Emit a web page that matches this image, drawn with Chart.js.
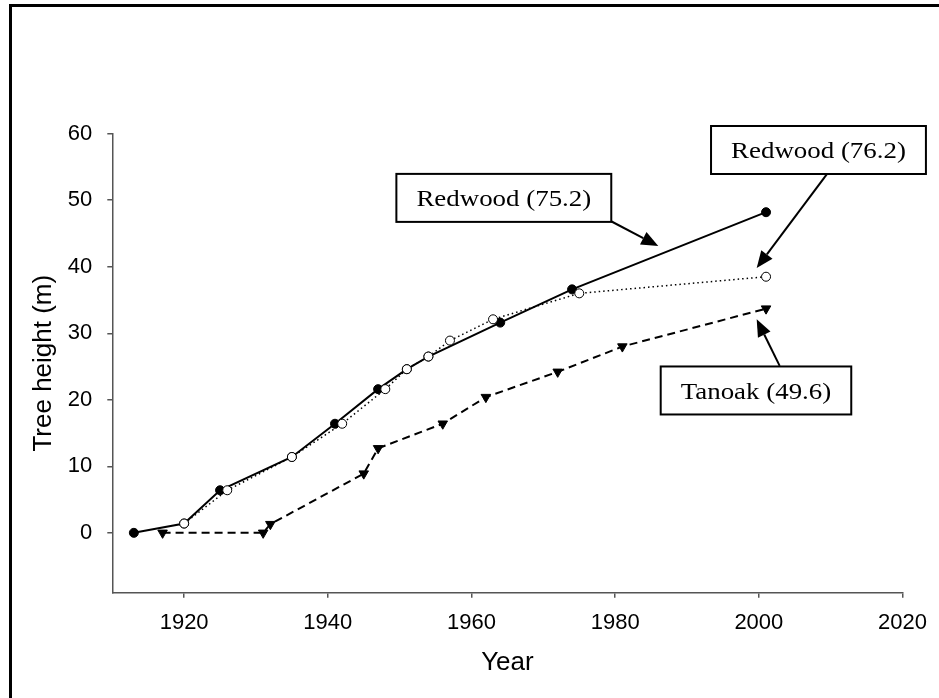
<!DOCTYPE html>
<html>
<head>
<meta charset="utf-8">
<script src="https://cdn.jsdelivr.net/npm/chart.js@4.4.1/dist/chart.umd.min.js"></script>
<style>
  body { margin: 0; background: #fff; }
  canvas { display: block; }
</style>
</head>
<body>
<canvas id="myChart" width="939" height="698"></canvas>
<script>
    // Redwood (75.2) - filled circles, solid line
    // (1920, 1935, 1951, 1954 sit under the open circles of the other redwood)
    var rw752Years = [1913, 1920, 1925, 1935, 1941, 1947, 1951, 1954, 1964, 1974, 2001];
    var rw752Height = [0, 1.4, 6.4, 11.4, 16.4, 21.6, 24.6, 26.5, 31.6, 36.6, 48.2];

    // Redwood (76.2) - open circles, dotted line
    var rw762Years = [1920, 1926, 1935, 1942, 1948, 1951, 1954, 1957, 1963, 1975, 2001];
    var rw762Height = [1.4, 6.4, 11.4, 16.4, 21.6, 24.6, 26.5, 28.9, 32.1, 36.0, 38.5];

    // Tanoak (49.6) - down triangles, dashed line
    var tanoakYears = [1917, 1931, 1932, 1945, 1947, 1956, 1962, 1972, 1981, 2001];
    var tanoakHeight = [0, 0, 1.3, 8.9, 12.7, 16.4, 20.4, 24.2, 28.0, 33.7];

    var xTicks = [1920, 1940, 1960, 1980, 2000, 2020];
    var yTicks = [0, 10, 20, 30, 40, 50, 60];

    // label boxes, placed in data units (box centre, arrow start on box edge, arrow tip)
    var labelTexts = ["Redwood (75.2)", "Redwood (76.2)", "Tanoak (49.6)"];
    var labelCentres = [[1964.5, 50.35], [2008.3, 57.55], [1999.6, 21.4]];
    var arrowFrom = [[1979.5, 46.8], [2009.5, 53.95], [2002.9, 25.1]];
    var arrowTo = [[1986.0, 43.1], [1999.7, 39.8], [1999.7, 32.1]];

    function toPoints(xs, ys) {
        var pts = [];
        for (var i = 0; i < xs.length; i++) {
            pts.push({x: xs[i], y: ys[i]});
        }
        return pts;
    }

    var boxesPlugin = {
        id: "boxes",
        afterDraw: function(chart) {
            var ctx = chart.ctx;
            var xs = chart.scales.x;
            var ys = chart.scales.y;
            ctx.save();

            // outer frame (only top and left are inside the picture)
            ctx.strokeStyle = "#000";
            ctx.lineWidth = 3;
            ctx.strokeRect(10.5, 5.5, 1200, 1200);

            var stretch = 1.17;
            ctx.font = "23px 'Liberation Serif', 'Times New Roman', serif";
            ctx.textAlign = "center";
            ctx.textBaseline = "middle";
            for (var i = 0; i < labelTexts.length; i++) {
                var cx = xs.getPixelForValue(labelCentres[i][0]);
                var cy = ys.getPixelForValue(labelCentres[i][1]);
                var w = ctx.measureText(labelTexts[i]).width * stretch + 40;
                var h = 48;
                ctx.fillStyle = "#fff";
                ctx.fillRect(cx - w / 2, cy - h / 2, w, h);
                ctx.lineWidth = 2;
                ctx.strokeStyle = "#000";
                ctx.strokeRect(cx - w / 2, cy - h / 2, w, h);
                ctx.fillStyle = "#000";
                ctx.save();
                ctx.translate(cx, cy + 2);
                ctx.scale(stretch, 1);
                ctx.fillText(labelTexts[i], 0, 0);
                ctx.restore();

                // arrow
                var x1 = xs.getPixelForValue(arrowFrom[i][0]);
                var y1 = ys.getPixelForValue(arrowFrom[i][1]);
                var x2 = xs.getPixelForValue(arrowTo[i][0]);
                var y2 = ys.getPixelForValue(arrowTo[i][1]);
                var ang = Math.atan2(y2 - y1, x2 - x1);
                var headLen = 17, headW = 7;
                var bx = x2 - Math.cos(ang) * headLen;
                var by = y2 - Math.sin(ang) * headLen;
                ctx.lineWidth = 2;
                ctx.beginPath();
                ctx.moveTo(x1, y1);
                ctx.lineTo(bx, by);
                ctx.stroke();
                ctx.beginPath();
                ctx.moveTo(x2, y2);
                ctx.lineTo(bx + Math.sin(ang) * headW, by - Math.cos(ang) * headW);
                ctx.lineTo(bx - Math.sin(ang) * headW, by + Math.cos(ang) * headW);
                ctx.closePath();
                ctx.fill();
            }
            ctx.restore();
        }
    };

    var ctx = document.getElementById("myChart").getContext("2d");
    var myChart = new Chart(ctx, {
        type: "line",
        data: {
            datasets: [
                {
                    // first dataset is drawn last, so the open circles sit on top
                    label: "Redwood (76.2)",
                    data: toPoints(rw762Years, rw762Height),
                    borderColor: "#000",
                    borderWidth: 1.5,
                    borderDash: [1.5, 3],
                    pointStyle: "circle",
                    pointRadius: 4.5,
                    pointBackgroundColor: "#fff",
                    pointBorderColor: "#000",
                    pointBorderWidth: 1
                },
                {
                    label: "Redwood (75.2)",
                    data: toPoints(rw752Years, rw752Height),
                    borderColor: "#000",
                    borderWidth: 2,
                    pointStyle: "circle",
                    pointRadius: 4.5,
                    pointBackgroundColor: "#000",
                    pointBorderColor: "#000",
                    pointBorderWidth: 1
                },
                {
                    label: "Tanoak (49.6)",
                    data: toPoints(tanoakYears, tanoakHeight),
                    borderColor: "#000",
                    borderWidth: 2,
                    borderDash: [8, 5],
                    pointStyle: "triangle",
                    rotation: 180,
                    pointRadius: 5.5,
                    pointBackgroundColor: "#000",
                    pointBorderColor: "#000",
                    pointBorderWidth: 1
                }
            ]
        },
        options: {
            responsive: false,
            animation: false,
            devicePixelRatio: 1,
            clip: false,
            layout: { padding: { left: 0, top: 133.7, right: 36.3, bottom: 0 } },
            plugins: {
                legend: { display: false },
                tooltip: { enabled: false }
            },
            elements: { line: { tension: 0, fill: false } },
            scales: {
                x: {
                    type: "linear",
                    min: 1910,
                    max: 2020,
                    afterBuildTicks: function(scale) {
                        scale.ticks = xTicks.map(function(v) { return {value: v}; });
                    },
                    afterFit: function(scale) { scale.height = 105.3; },
                    grid: { drawOnChartArea: false, drawTicks: true, tickLength: 5, color: "#555", lineWidth: 1.5 },
                    border: { display: true, color: "#555", width: 1.5 },
                    ticks: {
                        color: "#000",
                        padding: 12,
                        maxRotation: 0,
                        font: { family: "'Liberation Sans', Arial, sans-serif", size: 22 },
                        callback: function(v) { return String(v); }
                    },
                    title: {
                        display: true,
                        text: "Year",
                        color: "#000",
                        font: { family: "'Liberation Sans', Arial, sans-serif", size: 26 },
                        padding: { top: 0, bottom: 20 }
                    }
                },
                y: {
                    type: "linear",
                    min: -9,
                    max: 60,
                    afterBuildTicks: function(scale) {
                        scale.ticks = yTicks.map(function(v) { return {value: v}; });
                    },
                    afterFit: function(scale) { scale.width = 112.3; },
                    grid: { drawOnChartArea: false, drawTicks: true, tickLength: 5, color: "#555", lineWidth: 1.5 },
                    border: { display: true, color: "#555", width: 1.5 },
                    ticks: {
                        color: "#000",
                        padding: 15,
                        font: { family: "'Liberation Sans', Arial, sans-serif", size: 22 }
                    },
                    title: {
                        display: true,
                        text: "Tree height (m)",
                        color: "#000",
                        font: { family: "'Liberation Sans', Arial, sans-serif", size: 26 },
                        padding: { top: 28, bottom: 0 }
                    }
                }
            }
        },
        plugins: [boxesPlugin]
    });
</script>
</body>
</html>
